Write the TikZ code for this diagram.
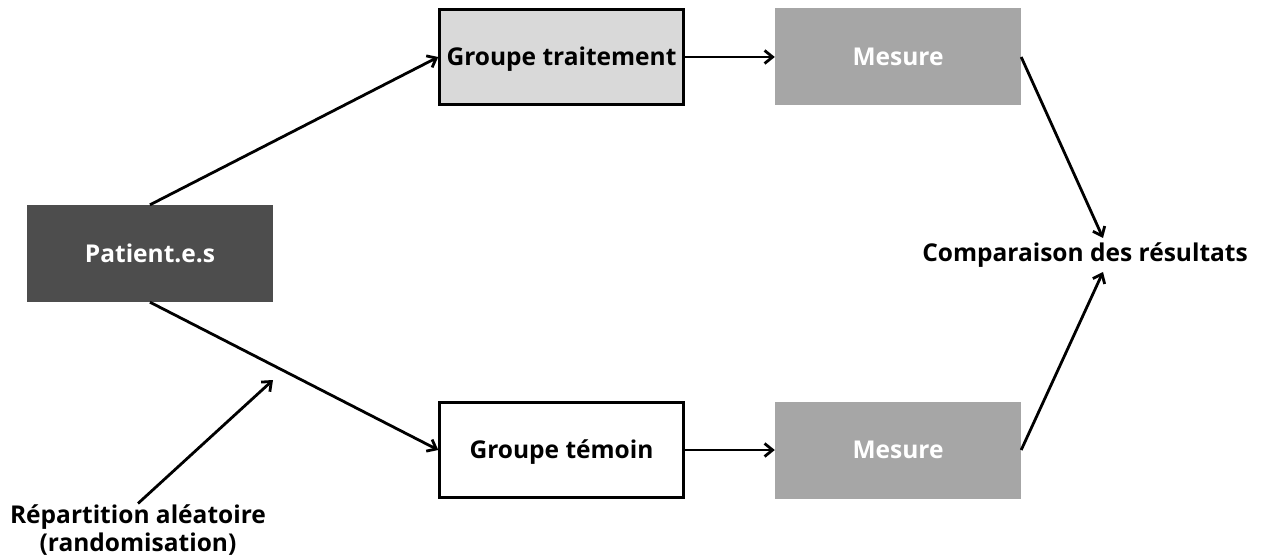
\documentclass[tikz,border=0pt]{standalone}
\usepackage{fontspec}
\setmainfont{Open Sans}
\usetikzlibrary{arrows.meta}
\definecolor{dark}{HTML}{4D4D4D}
\definecolor{light}{HTML}{D9D9D9}
\definecolor{mid}{HTML}{A6A6A6}
\tikzset{
  box/.style={minimum width=246pt, minimum height=97pt, inner sep=0pt, text height=17.5pt, text depth=0pt, font=\fontsize{24.5}{29}\selectfont\bfseries},
  outlined/.style={box, draw=black, line width=2.5pt},
  conn/.style={line width=2.8pt, -{Straight Barb[length=8pt,width=13pt,line width=2.8pt]}},
  lbl/.style={font=\fontsize{24.5}{28}\selectfont\bfseries, align=center, inner sep=0pt}
}
\begin{document}
\begin{tikzpicture}[x=1pt,y=-1pt]
\useasboundingbox (0,0) rectangle (1262,556);
\node[box, fill=dark, text=white] (pat) at (150,253.5) {Patient.e.s};
\node[outlined, fill=light, minimum width=244pt, minimum height=95pt] (gt) at (561.5,57) {Groupe traitement};
\node[outlined, fill=white, minimum width=244pt, minimum height=95pt] (gw) at (561.5,450) {Groupe témoin};
\node[box, fill=mid, text=white] (m1) at (898,57) {Mesure};
\node[box, fill=mid, text=white] (m2) at (898,450) {Mesure};
\node[lbl] (comp) at (1085,255) {Comparaison des résultats};
\node[lbl] (rep) at (138,530) {Répartition aléatoire\\(randomisation)};
\coordinate (cin1) at (1103,238);
\coordinate (cin2) at (1103,272);
\coordinate (rnd) at (273,380);
\draw[conn] (pat.north) -- (gt.west);
\draw[conn] (pat.south) -- (gw.west);
\draw[conn] (gt.east) -- (m1.west);
\draw[conn] (gw.east) -- (m2.west);
\draw[conn] (m1.east) -- (cin1);
\draw[conn] (m2.east) -- (cin2);
\draw[conn] (rep.north) ++(0,-1) -- (rnd);
\end{tikzpicture}
\end{document}
